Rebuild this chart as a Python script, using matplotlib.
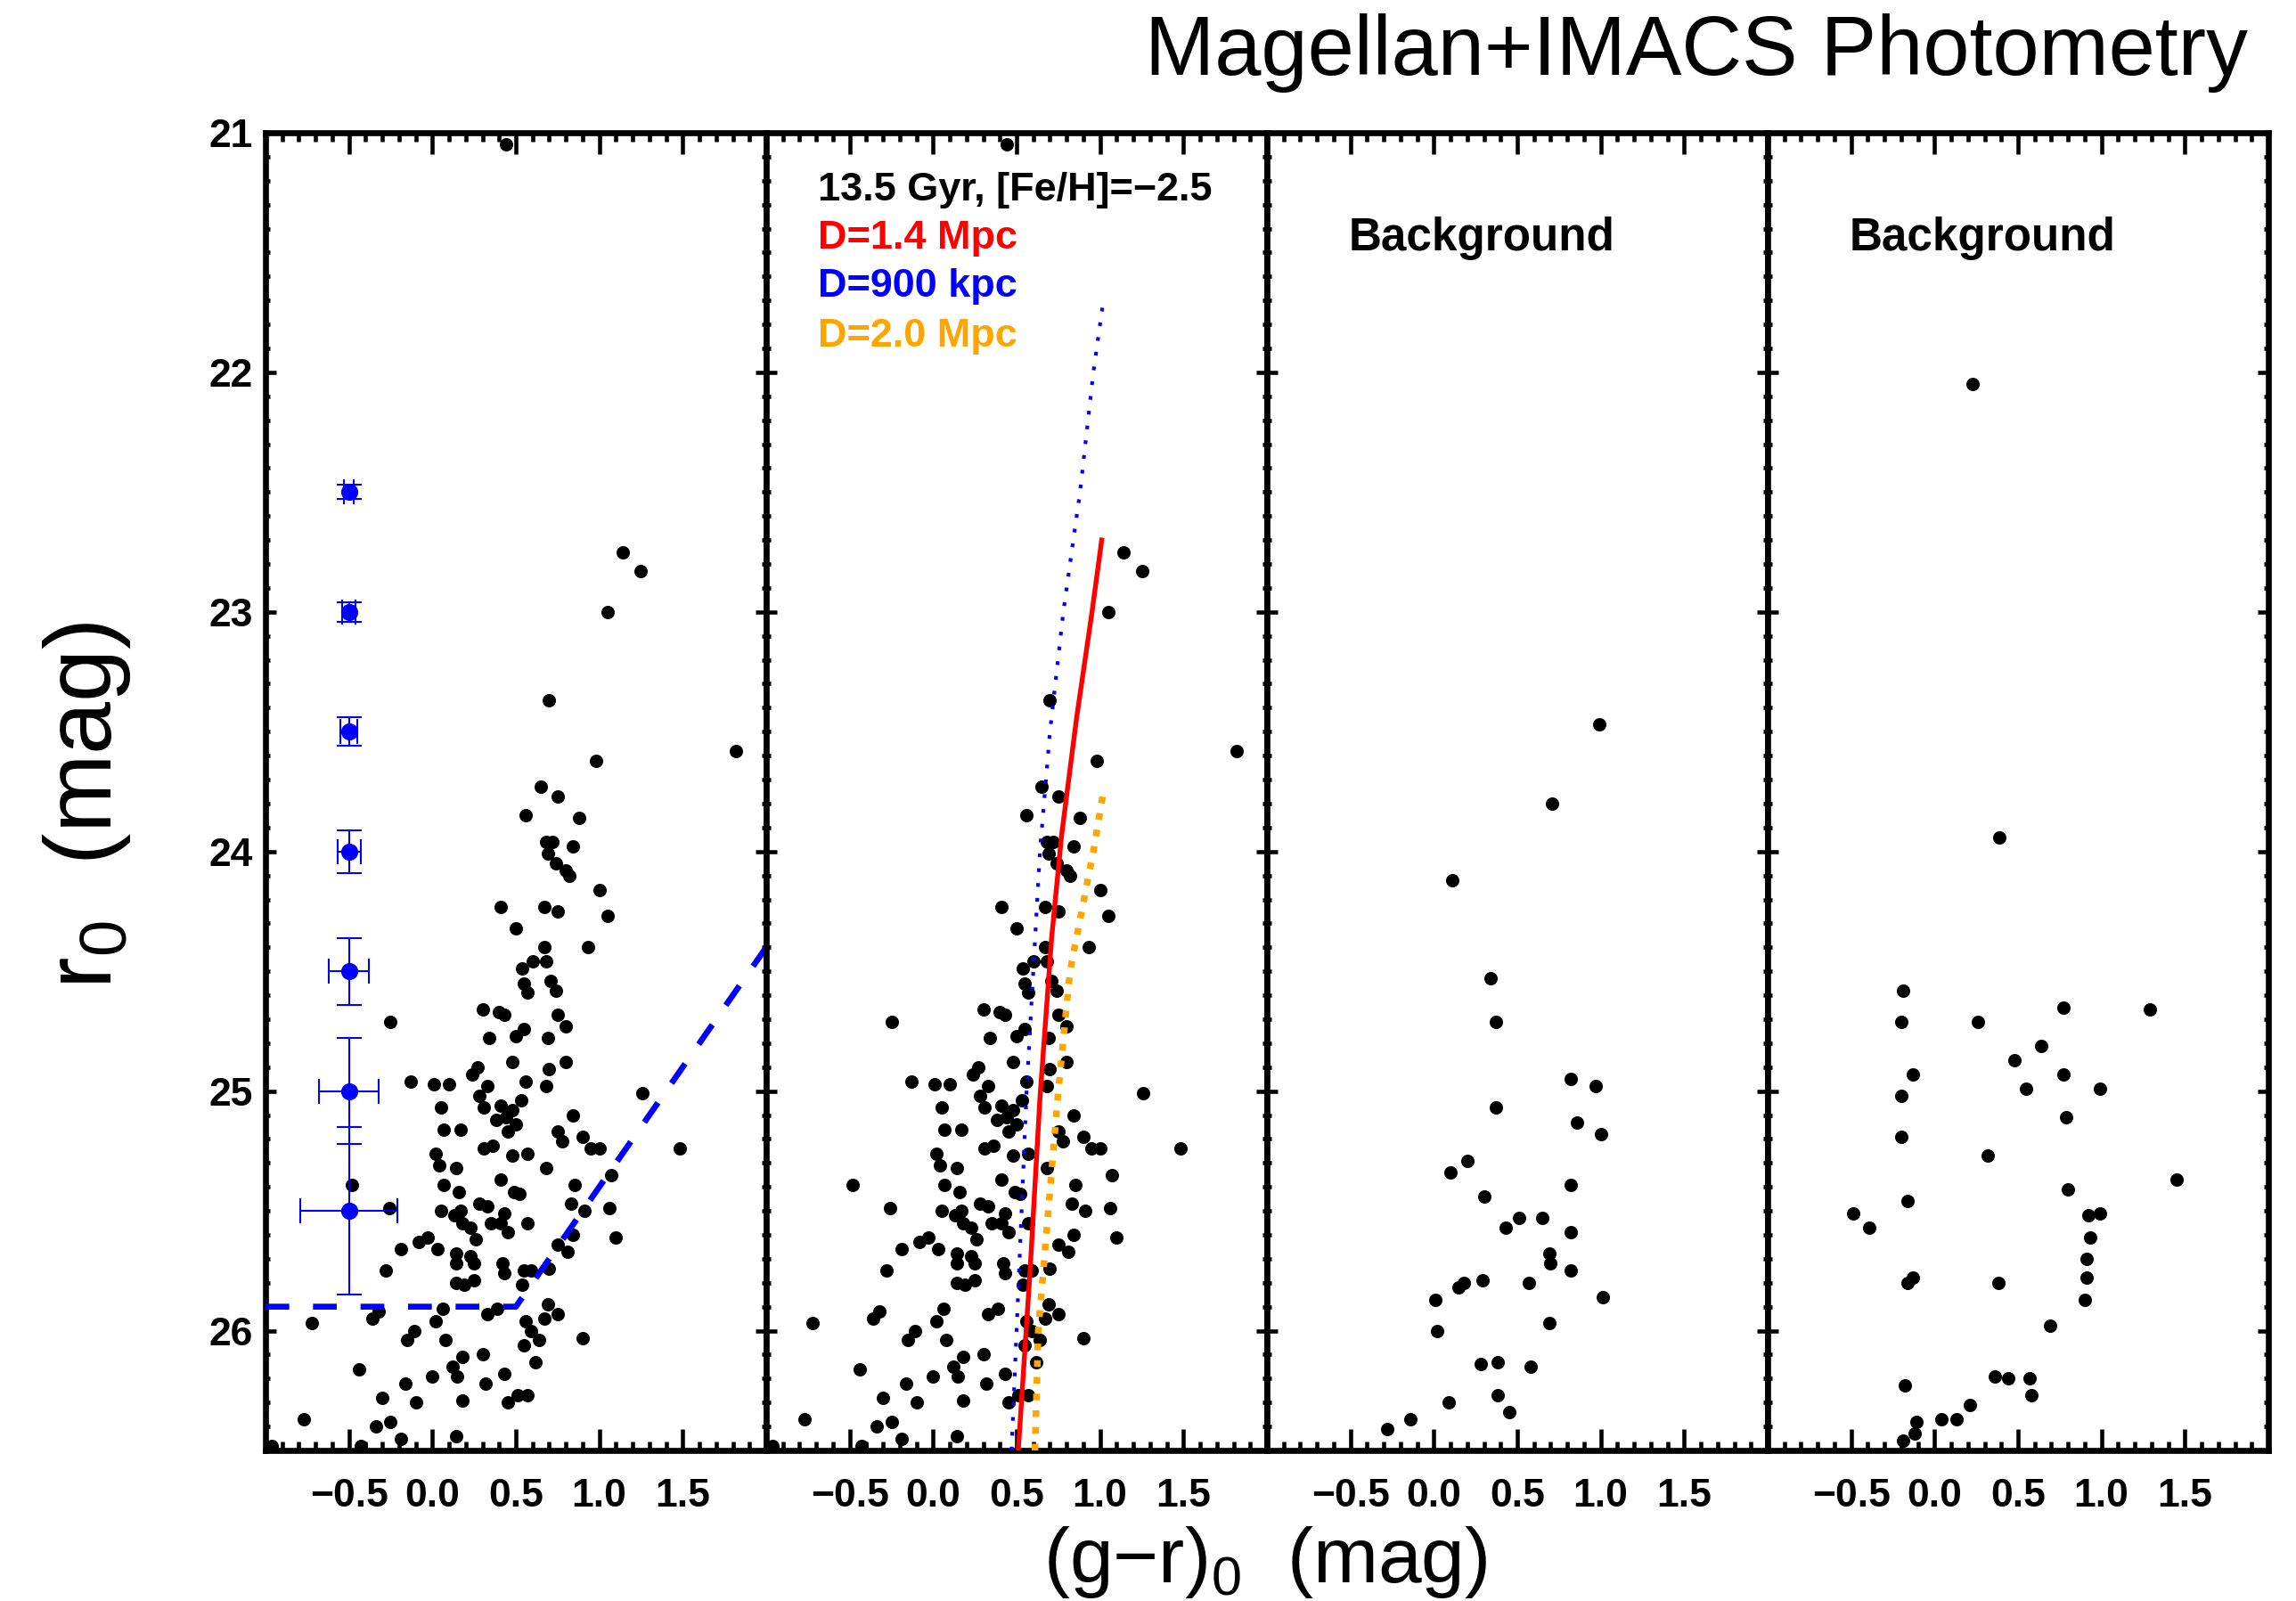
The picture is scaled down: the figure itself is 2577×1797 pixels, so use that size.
import matplotlib
matplotlib.use("Agg")
import matplotlib.pyplot as plt
from matplotlib.ticker import MultipleLocator, FixedLocator, FixedFormatter

# ---------------------------------------------------------------------------
# Stars in the target field: (g-r)_0 colour and r_0 magnitude
field_color = [
    0.44, 1.14, 1.25, 1.05, 0.70, 1.82, 0.98, 0.65, 0.75, 0.56, 0.88, 0.68, 0.72,
    0.84, 0.69, 0.74, 0.80, 0.82, 1.00,
    0.41, 0.50, -0.25, 0.30, 0.40, 0.43, 0.34, 0.50, 0.27, 0.24, 0.48, -0.13,
    0.01, 0.10, 0.33, 0.28, 0.31, 0.41, 0.05, 0.38, 0.44, 0.07, 0.17, 0.31,
    0.36, 0.45, 0.02, 0.04, 0.14, 0.48,
    0.67, 0.75, 1.05, 0.93, 0.67, 0.60, 0.68, 0.54, 0.55, 0.71, 0.57, 0.74,
    0.75, 0.80, 0.55, 0.69, 0.80, 0.70, 0.56, 0.68, 1.26, 0.53, 0.48, 0.84,
    0.50, 0.75, 0.78, 0.90, 0.95, 1.00, 1.48, 0.57, 0.68, 1.07,
    -0.48, -0.26, 0.07, 0.16, 0.41, 0.05, 0.13, 0.17, 0.18, 0.23, 0.28, 0.33,
    0.43, 0.35, 0.41, 0.45, 0.26, -0.19, -0.08, -0.03, 0.03, 0.14, 0.14, 0.23,
    0.25, 0.42, 0.43, -0.28, 0.14, 0.19, 0.25, 0.06, 0.33, 0.39, -0.72, -0.36,
    -0.32, -0.15, -0.11, 0.02, 0.08, 0.12, 0.18, 0.15, 0.30, -0.44, -0.16,
    0.00, 0.32, 0.43, -0.30, -0.10, 0.18, 0.45, -0.77, -0.34, -0.25, -0.19,
    0.14, -0.96, -0.43, 0.49,
    0.52, 0.85, 0.83, 0.91, 1.06, 0.57, 1.10, 0.84, 0.75, 0.81, 0.55, 0.59,
    0.70, 0.54, 0.69, 0.75, 0.67, 0.56, 0.59, 0.55, 0.64, 0.90, 0.62, 0.51,
    0.57,
]
field_mag = [
    21.05, 22.75, 22.83, 23.00, 23.37, 23.58, 23.62, 23.73, 23.77, 23.85, 23.86,
    23.96, 23.96, 23.98, 24.01, 24.05, 24.08, 24.10, 24.16,
    24.23, 24.32, 24.71, 24.66, 24.67, 24.68, 24.78, 24.77, 24.90, 24.93, 24.88,
    24.96, 24.97, 24.97, 24.98, 25.02, 25.07, 25.06, 25.07, 25.12, 25.11, 25.16,
    25.16, 25.24, 25.23, 25.17, 25.26, 25.31, 25.32, 25.27,
    24.23, 24.25, 24.27, 24.40, 24.40, 24.46, 24.46, 24.49, 24.55, 24.54, 24.59,
    24.58, 24.68, 24.73, 24.74, 24.78, 24.88, 24.91, 24.96, 24.98, 25.01, 25.04,
    25.08, 25.10, 25.14, 25.17, 25.21, 25.19, 25.24, 25.24, 25.24, 25.26, 25.32,
    25.35,
    25.39, 25.49, 25.39, 25.42, 25.37, 25.50, 25.52, 25.50, 25.55, 25.57, 25.47,
    25.48, 25.51, 25.55, 25.55, 25.59, 25.62, 25.66, 25.63, 25.61, 25.66, 25.68,
    25.72, 25.69, 25.72, 25.72, 25.76, 25.75, 25.80, 25.81, 25.79, 25.91, 25.93,
    25.91, 25.97, 25.95, 25.92, 26.04, 26.00, 25.96, 26.04, 26.15, 26.11, 26.19,
    26.10, 26.16, 26.22, 26.19, 26.22, 26.18, 26.28, 26.30, 26.29, 26.30, 26.37,
    26.40, 26.38, 26.45, 26.44, 26.48, 26.48, 25.42,
    25.43, 25.39, 25.47, 25.50, 25.49, 25.55, 25.61, 25.60, 25.64, 25.67, 25.75,
    25.75, 25.74, 25.81, 25.89, 25.93, 25.95, 25.96, 26.00, 26.06, 26.04, 26.03,
    26.13, 26.27, 26.27,
]

# Two comparison background fields
bg1_color = [0.99, 0.71, 0.11, 0.34, 0.37, 0.82, 0.97, 0.37, 0.86, 1.00, 0.20,
             0.10, 0.82, 0.30, 0.51, 0.65, 0.43, 0.82, 0.69, 0.70, 0.82, 0.18,
             0.15, 0.29, 0.57, 0.01, 1.01, 0.02, 0.69, 0.28, 0.38, 0.58, 0.09,
             0.38, 0.45, -0.28, -0.14]
bg1_mag = [23.47, 23.80, 24.12, 24.53, 24.71, 24.95, 24.98, 25.07, 25.13, 25.18,
           25.29, 25.34, 25.39, 25.44, 25.53, 25.53, 25.57, 25.59, 25.68, 25.72,
           25.75, 25.80, 25.82, 25.79, 25.80, 25.87, 25.86, 26.00, 25.97, 26.14,
           26.13, 26.15, 26.30, 26.27, 26.34, 26.41, 26.37]

bg2_color = [0.23, 0.39, -0.19, -0.20, 0.77, 1.29, 0.26, 0.64, 0.48, -0.13, 0.77,
             0.99, 0.55, -0.20, 0.79, -0.20, 0.32, 0.80, 1.45, -0.16, -0.49, 0.99,
             0.92, -0.39, 0.93, 0.91, -0.13, -0.16, 0.38, 0.91, 0.90, 0.69, -0.18,
             0.36, 0.44, 0.57, 0.58, 0.21, 0.13, 0.04, -0.11, -0.12, -0.19]
bg2_mag = [22.05, 23.94, 24.58, 24.71, 24.65, 24.66, 24.71, 24.81, 24.87, 24.93,
           24.93, 24.99, 24.99, 25.02, 25.11, 25.19, 25.27, 25.41, 25.37, 25.46,
           25.51, 25.51, 25.52, 25.57, 25.61, 25.70, 25.78, 25.80, 25.80, 25.78,
           25.87, 25.98, 26.23, 26.19, 26.20, 26.20, 26.27, 26.31, 26.37, 26.37,
           26.38, 26.43, 26.46]

# Representative photometric uncertainties
err_mag = [22.5, 23.0, 23.5, 24.0, 24.5, 25.0, 25.5]
err_color = [-0.5, -0.5, -0.5, -0.5, -0.5, -0.5, -0.5]
err_mag_sigma = [0.03, 0.04, 0.06, 0.09, 0.14, 0.22, 0.35]
err_color_sigma = [0.03, 0.04, 0.05, 0.07, 0.12, 0.18, 0.29]

# 50% completeness limit
limit_color = [-1.0, 0.5, 2.0]
limit_mag = [25.9, 25.9, 24.4]

# 13.5 Gyr, [Fe/H]=-2.5 isochrone placed at three distances
iso14_color = [0.51, 0.58, 0.64, 0.71, 0.77, 0.86, 0.95, 1.01]
iso14_mag = [26.5, 25.76, 25.03, 24.36, 23.93, 23.44, 23.01, 22.70]
iso09_color = [0.47, 0.50, 0.56, 0.64, 0.70, 0.78, 0.88, 0.96, 1.02]
iso09_mag = [26.5, 26.0, 25.0, 24.0, 23.5, 23.0, 22.5, 22.0, 21.7]
iso20_color = [0.61, 0.63, 0.69, 0.75, 0.82, 0.96, 1.02]
iso20_mag = [26.5, 26.0, 25.5, 25.0, 24.5, 24.0, 23.75]

xtick_values = [-1.0, -0.5, 0.0, 0.5, 1.0, 1.5, 2.0]
xtick_labels = ["", "\u22120.5", "0.0", "0.5", "1.0", "1.5", ""]
ytick_values = [21, 22, 23, 24, 25, 26]
ytick_labels = ["21", "22", "23", "24", "25", "26"]

# ---------------------------------------------------------------------------
W, H, DPI = 2577, 1797, 300
fig = plt.figure(figsize=(W / DPI, H / DPI), dpi=DPI)
fig.patch.set_facecolor("white")

BOLD = dict(family="Liberation Sans", weight="bold")
left_px, panel_px, top_px, bottom_px = 298, 562, 149, 1628

axes = []
for i in range(4):
    ax = fig.add_axes([(left_px + i * panel_px) / W, 1 - bottom_px / H,
                       panel_px / W, (bottom_px - top_px) / H])
    ax.set_xlim(-1.0, 2.0)
    ax.set_ylim(26.5, 21.0)
    for sp in ax.spines.values():
        sp.set_linewidth(1.6)
    ax.xaxis.set_major_locator(FixedLocator(xtick_values))
    ax.xaxis.set_major_formatter(FixedFormatter(xtick_labels))
    ax.xaxis.set_minor_locator(MultipleLocator(0.1))
    ax.yaxis.set_major_locator(FixedLocator(ytick_values))
    ax.yaxis.set_minor_locator(MultipleLocator(0.1))
    ax.tick_params(which="both", direction="in", top=True, right=True,
                   width=1.1, color="black")
    ax.tick_params(axis="x", which="major", length=5.8, pad=7.5)
    ax.tick_params(axis="x", which="minor", length=2.4)
    ax.tick_params(axis="y", which="major", length=2.9, pad=3.5)
    ax.tick_params(axis="y", which="minor", length=1.2)
    if i == 0:
        ax.yaxis.set_major_formatter(FixedFormatter(ytick_labels))
    else:
        ax.set_yticklabels([])
    for lab in ax.get_xticklabels() + ax.get_yticklabels():
        lab.set_fontfamily("Liberation Sans")
        lab.set_fontweight("bold")
        lab.set_fontsize(10.7)
    axes.append(ax)

pt_kw = dict(s=13, c="black", linewidths=0, zorder=3)

# Panel 1: field stars, uncertainties and completeness limit
ax = axes[0]
ax.scatter(field_color, field_mag, **pt_kw)
ax.errorbar(err_color, err_mag, xerr=err_color_sigma, yerr=err_mag_sigma,
            fmt="o", color="blue", ms=3.6, elinewidth=0.5, capsize=3.3,
            capthick=0.5, zorder=4)
ax.plot(limit_color, limit_mag, color="blue", lw=1.6, ls=(0, (4, 4)), zorder=5)

# Panel 2: field stars with isochrones
ax = axes[1]
ax.scatter(field_color, field_mag, **pt_kw)
ax.plot(iso09_color, iso09_mag, color="blue", lw=1.0, ls=(0, (1, 3)), zorder=5)
ax.plot(iso20_color, iso20_mag, color="orange", lw=1.8, ls=(0, (1, 1.5)), zorder=5)
ax.plot(iso14_color, iso14_mag, color="red", lw=1.3, zorder=6)
ax.text(-0.69, 21.24, "13.5 Gyr, [Fe/H]=\u22122.5", color="black", fontsize=10.8,
        va="center", ha="left", **BOLD)
ax.text(-0.69, 21.44, "D=1.4 Mpc", color="red", fontsize=10.8, va="center",
        ha="left", **BOLD)
ax.text(-0.69, 21.64, "D=900 kpc", color="blue", fontsize=10.8, va="center",
        ha="left", **BOLD)
ax.text(-0.69, 21.85, "D=2.0 Mpc", color="orange", fontsize=10.8, va="center",
        ha="left", **BOLD)

# Panels 3 and 4: background fields
for ax, bc, bm in ((axes[2], bg1_color, bg1_mag), (axes[3], bg2_color, bg2_mag)):
    ax.scatter(bc, bm, **pt_kw)
    ax.text(-0.51, 21.44, "Background", color="black", fontsize=12.3,
            va="center", ha="left", **BOLD)

fig.text(0.979, 0.967, "Magellan+IMACS Photometry", ha="right", va="center",
         fontsize=22.5, family="Liberation Sans")
fig.text(0.038, 0.497, "r$_\\mathregular{0}$  (mag)", rotation=90, ha="center",
         va="center", fontsize=25.5, family="Liberation Sans")
fig.text(0.551, 0.024, "(g\u2212r)$_\\mathregular{0}$  (mag)", ha="center",
         va="center", fontsize=21, family="Liberation Sans")

fig.savefig("out.png", dpi=DPI, facecolor="white")
